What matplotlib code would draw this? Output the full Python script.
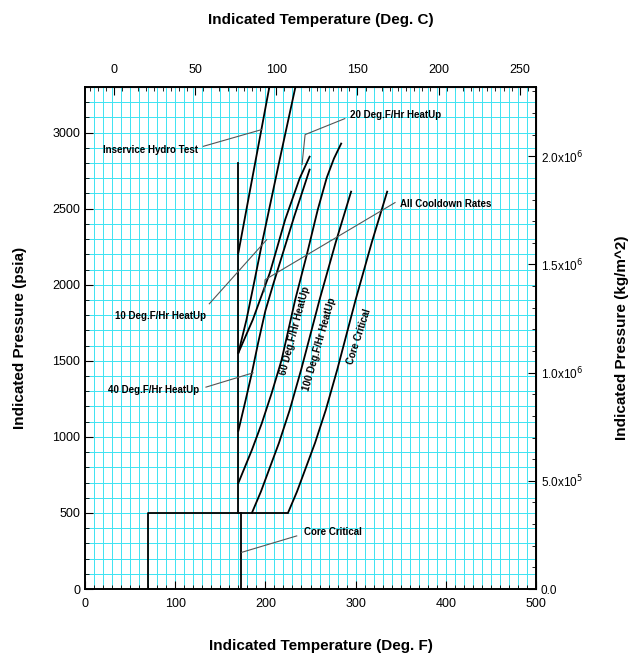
import matplotlib.pyplot as plt
from matplotlib.ticker import MultipleLocator, FuncFormatter

plt.rcParams['font.family'] = ['Liberation Sans', 'DejaVu Sans']

# boundary lines (deg F, psia)
boundary_t = [70, 70, 224]
boundary_p = [0, 500, 500]
min_temp_t = [170, 170]
min_temp_p = [500, 2800]
crit_min_t = [173, 173]
crit_min_p = [0, 500]

# curves (deg F, psia)
hydro_t = [170, 187, 205]
hydro_p = [2210, 2750, 3320]
ten_t = [170, 179, 188, 197, 215, 234]
ten_p = [1552, 1770, 2030, 2296, 2800, 3320]
twenty_t = [170, 186, 205, 222, 238, 249]
twenty_p = [1552, 1770, 2080, 2430, 2700, 2842]
forty_t = [170, 178, 185, 192, 200, 209, 220, 232, 242, 249]
forty_p = [1040, 1240, 1421, 1620, 1830, 2010, 2220, 2450, 2630, 2757]
sixty_t = [170, 185, 196, 207, 218, 233, 246, 258, 268, 276, 284]
sixty_p = [697, 914, 1090, 1289, 1507, 1901, 2200, 2493, 2704, 2830, 2928]
hundred_t = [185, 195, 205, 215, 227, 240, 260, 278, 295]
hundred_p = [500, 640, 800, 960, 1178, 1450, 1901, 2280, 2612]
core_t = [225, 235, 245, 255, 267, 280, 300, 318, 335]
core_p = [500, 640, 800, 960, 1178, 1450, 1901, 2280, 2612]

fig = plt.figure(figsize=(6.28, 6.57), dpi=100)
ax = fig.add_axes([0.1354, 0.1035, 0.7181, 0.7641])
ax.set_xlim(0, 500)
ax.set_ylim(0, 3300)

ax.xaxis.set_major_locator(MultipleLocator(100))
ax.xaxis.set_minor_locator(MultipleLocator(10))
ax.yaxis.set_major_locator(MultipleLocator(500))
ax.yaxis.set_minor_locator(MultipleLocator(100))
ax.grid(which='both', color='#3de3f2', linewidth=0.7)
ax.set_axisbelow(True)
ax.tick_params(which='both', direction='in', labelsize=9, color='black')
ax.tick_params(axis='x', pad=6.5)
ax.tick_params(which='major', length=6)
ax.tick_params(which='minor', length=3)
for s in ax.spines.values():
    s.set_linewidth(1.4)

lw = 1.3
for t, p in [(boundary_t, boundary_p), (min_temp_t, min_temp_p), (crit_min_t, crit_min_p),
             (hydro_t, hydro_p), (ten_t, ten_p), (twenty_t, twenty_p), (forty_t, forty_p),
             (sixty_t, sixty_p), (hundred_t, hundred_p), (core_t, core_p)]:
    ax.plot(t, p, color='black', linewidth=lw, solid_joinstyle='round')

# leader lines
lc = '#555555'
ax.plot([131.2, 195.9], [2910, 3020], color=lc, lw=0.8)
ax.plot([288, 244, 240.6], [3092, 2987, 2790], color=lc, lw=0.8)
ax.plot([343.7, 199.6, 198.5], [2540, 2033, 1954], color=lc, lw=0.8)
ax.plot([137.8, 201.4], [1875, 2296], color=lc, lw=0.8)
ax.plot([134.1, 186.3], [1327, 1421], color=lc, lw=0.8)
ax.plot([234.7, 173.7], [349, 241], color=lc, lw=0.8)

fs = 7
ax.text(20, 2888, 'Inservice Hydro Test', fontsize=fs, fontweight='bold', ha='left', va='center')
ax.text(293.8, 3118, '20 Deg.F/Hr HeatUp', fontsize=fs, fontweight='bold', ha='left', va='center')
ax.text(349.2, 2531, 'All Cooldown Rates', fontsize=fs, fontweight='bold', ha='left', va='center')
ax.text(33.3, 1792, '10 Deg.F/Hr HeatUp', fontsize=fs, fontweight='bold', ha='left', va='center')
ax.text(25.8, 1305, '40 Deg.F/Hr HeatUp', fontsize=fs, fontweight='bold', ha='left', va='center')
ax.text(233, 1700, '60 Deg.F/Hr HeatUp', fontsize=fs, fontweight='bold', ha='center', va='center', rotation=75)
ax.text(260, 1610, '100 Deg.F/Hr HeatUp', fontsize=fs, fontweight='bold', ha='center', va='center', rotation=74)
ax.text(304, 1658, 'Core Critical', fontsize=fs, fontweight='bold', ha='center', va='center', rotation=72)
ax.text(242.8, 375, 'Core Critical', fontsize=fs, fontweight='bold', ha='left', va='center')

ax.set_xlabel('Indicated Temperature (Deg. F)', fontsize=11, fontweight='bold', labelpad=21)
ax.xaxis.label.set_x(0.523)
ax.set_ylabel('Indicated Pressure (psia)', fontsize=11, fontweight='bold', labelpad=18)

# secondary axes: Celsius and kg/m^2
secx = ax.secondary_xaxis('top', functions=(lambda f: (f - 32) * 5 / 9, lambda c: c * 9 / 5 + 32))
secx.xaxis.set_major_locator(MultipleLocator(50))
secx.xaxis.set_minor_locator(MultipleLocator(5))
secx.tick_params(which='both', direction='in', labelsize=9, pad=8)
secx.tick_params(which='major', length=6)
secx.tick_params(which='minor', length=3)
secx.set_xlabel('Indicated Temperature (Deg. C)', fontsize=11, fontweight='bold', labelpad=29)
secx.xaxis.label.set_x(0.523)

secy = ax.secondary_yaxis('right', functions=(lambda p: p * 703.07, lambda k: k / 703.07))
secy.yaxis.set_major_locator(MultipleLocator(5e5))
secy.yaxis.set_minor_locator(MultipleLocator(1e5))


def kfmt(v, pos):
    if abs(v) < 1:
        return '0.0'
    e = int(f'{v:e}'.split('e')[1])
    m = v / 10 ** e
    return f'{m:.1f}x10$^{{{e}}}$'


secy.yaxis.set_major_formatter(FuncFormatter(kfmt))
secy.tick_params(which='both', direction='in', labelsize=8.5)
secy.tick_params(which='major', length=6)
secy.tick_params(which='minor', length=3)
secy.set_ylabel('Indicated Pressure (kg/m^2)', fontsize=11, fontweight='bold', labelpad=23)

for a in (ax, secx, secy):
    a.xaxis.get_offset_text().set_visible(False)
    a.yaxis.get_offset_text().set_visible(False)

fig.savefig('out.png', dpi=100, facecolor='white')
